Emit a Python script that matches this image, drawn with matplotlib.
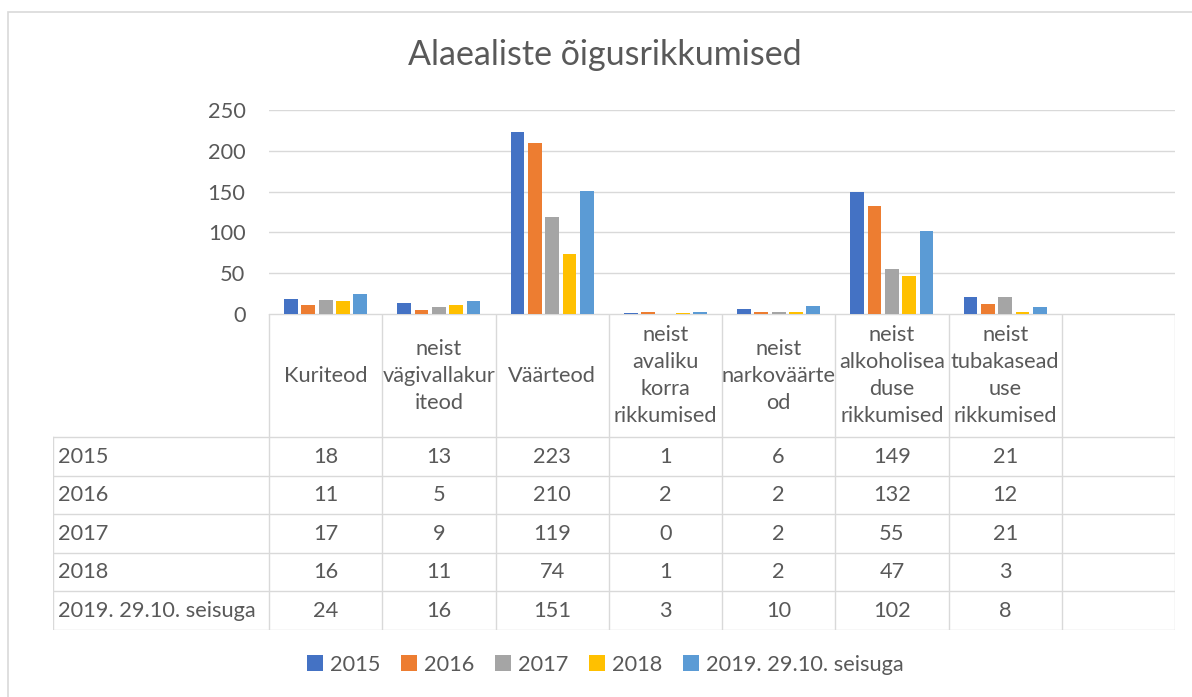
"""Alaealiste õigusrikkumised: grouped bars with an Excel-style data table."""
import matplotlib.pyplot as plt
from matplotlib.patches import Rectangle
import numpy as np

plt.rcParams["font.family"] = ["Lato", "DejaVu Sans"]

title = "Alaealiste õigusrikkumised"
categories = [
    "Kuriteod",
    "neist vägivallakuriteod",
    "Väärteod",
    "neist avaliku korra rikkumised",
    "neist narkoväärteod",
    "neist alkoholiseaduse rikkumised",
    "neist tubakaseaduse rikkumised",
]
# header text as Excel wraps it inside the table cells
header_labels = [
    "Kuriteod",
    "neist\nvägivallakur\niteod",
    "Väärteod",
    "neist\navaliku\nkorra\nrikkumised",
    "neist\nnarkoväärte\nod",
    "neist\nalkoholisea\nduse\nrikkumised",
    "neist\ntubakasead\nuse\nrikkumised",
]
series_names = ["2015", "2016", "2017", "2018", "2019. 29.10. seisuga"]
v2015 = [18, 13, 223, 1, 6, 149, 21]
v2016 = [11, 5, 210, 2, 2, 132, 12]
v2017 = [17, 9, 119, 0, 2, 55, 21]
v2018 = [16, 11, 74, 1, 2, 47, 3]
v2019 = [24, 16, 151, 3, 10, 102, 8]
series = [v2015, v2016, v2017, v2018, v2019]
colors = ["#4472C4", "#ED7D31", "#A5A5A5", "#FFC000", "#5B9BD5"]

TEXT = "#595959"
GRID = "#D9D9D9"
FS = 15.7
W, H = 1192, 697


def px_box(x0, y0, x1, y1):
    return [x0 / W, 1 - y1 / H, (x1 - x0) / W, (y1 - y0) / H]


fig = plt.figure(figsize=(W / 100, H / 100), dpi=100)

# chart area border (runs off the right and bottom edges)
fig.patches.append(Rectangle((8 / W, -0.1), 1.2, 1.1 - 12 / H,
                             transform=fig.transFigure, fill=False,
                             edgecolor=GRID, lw=1.2))

fig.text(605 / W, 1 - 55 / H, title, ha="center", va="center",
         fontsize=24.5, color=TEXT)

n_slots = len(categories) + 1  # Excel range has one empty column
x = np.arange(len(categories))

ax = fig.add_axes(px_box(269, 110, 1175, 314))
handles = []
for i, (name, vals, col) in enumerate(zip(series_names, series, colors)):
    b = ax.bar(x + (i - 2) * 0.153, vals, width=0.122, color=col,
               label=name, zorder=3)
    handles.append(b)
ax.set_xlim(-0.5, n_slots - 0.5)
ax.set_ylim(0, 250)
ax.set_yticks(range(0, 251, 50))
ax.set_xticks([])
ax.grid(axis="y", color=GRID, lw=1.0, zorder=0)
for s in ["top", "right", "left", "bottom"]:
    ax.spines[s].set_visible(False)
ax.tick_params(axis="y", length=0, pad=17, labelsize=FS, labelcolor=TEXT)

# data table below the bars
label_w = 216 / 113.25
header_h = 3.2
n_rows = len(series_names)
tab = fig.add_axes(px_box(53, 314, 1175, 630))
tab.set_xlim(-0.5 - label_w, n_slots - 0.5)
tab.set_ylim(header_h + n_rows, 0)
tab.axis("off")
lk = dict(color=GRID, lw=1.0, solid_capstyle="projecting")
tab.plot([-0.5, n_slots - 0.5], [0, 0], **lk)
for k in range(n_rows + 1):
    tab.plot([-0.5 - label_w, n_slots - 0.5], [header_h + k] * 2, **lk)
for j in range(n_slots + 1):
    tab.plot([-0.5 + j] * 2, [0, header_h + n_rows], **lk)
tab.plot([-0.5 - label_w] * 2, [header_h, header_h + n_rows], **lk)

for j, lab in enumerate(header_labels):
    tab.text(j, header_h / 2, lab, ha="center", va="center", fontsize=FS,
             color=TEXT, linespacing=1.44)
for r, (name, vals) in enumerate(zip(series_names, series)):
    yc = header_h + r + 0.5
    tab.text(-0.5 - label_w + 0.04, yc, name, ha="left", va="center",
             fontsize=FS, color=TEXT)
    for j, v in enumerate(vals):
        tab.text(j, yc, str(v), ha="center", va="center", fontsize=FS,
                 color=TEXT)

fig.legend(handles, series_names, loc="center",
           bbox_to_anchor=(605 / W, 1 - 665 / H), ncol=5, frameon=False,
           handlelength=0.75, handleheight=0.75, handletextpad=0.3,
           columnspacing=0.95, fontsize=FS, labelcolor=TEXT)

fig.savefig("out.png", dpi=100)
